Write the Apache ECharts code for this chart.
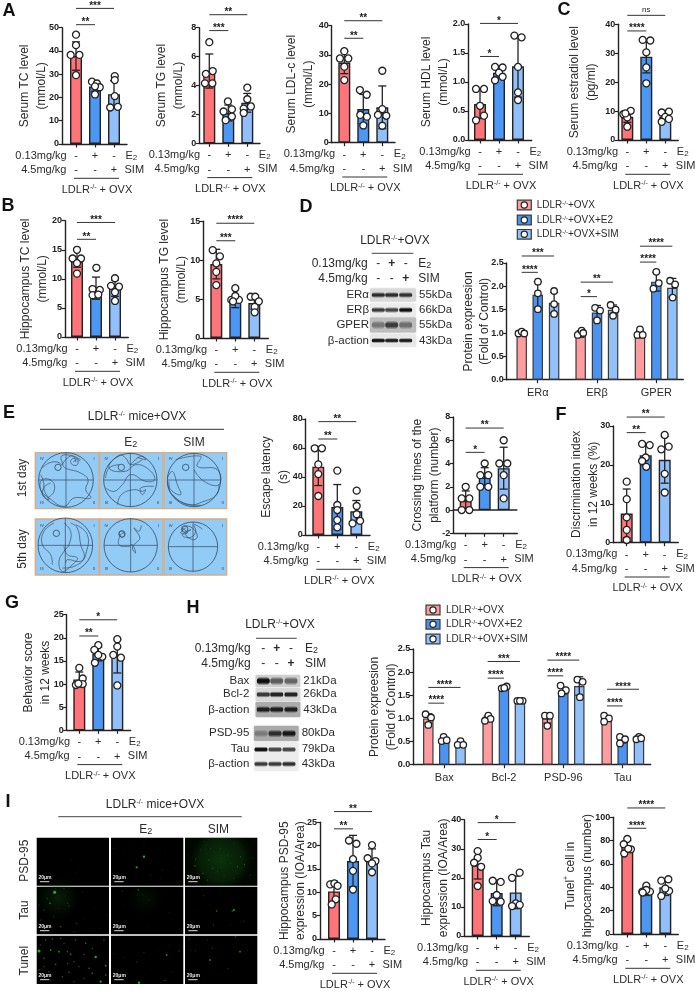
<!DOCTYPE html>
<html><head><meta charset="utf-8">
<style>html,body{margin:0;padding:0;background:#fff}#c{width:695px;height:991px}</style>
<script src="https://cdn.jsdelivr.net/npm/echarts@6/dist/echarts.min.js"></script></head>
<body><div id="c"></div>
<script>
// ---------- values ----------
const xGroups = ['-\n-', '+\n-', '-\n+'];
const tcMeans=[37.8,24.7,21.4], tcSD=[6.1,2,5.8];
const tcDots=[[0,47],[0,42.5],[-.28,38.3],[.18,38.3],[0,29.6],[.84,26.8],[1.1,26],[1.25,24.4],[1,21.3],[1,24.8],[2.04,29.2],[2.04,27.5],[2.04,20.6],[1.8,15.7],[2.2,16]];
const tcSig=[[0,1,51.3,'**'],[0,2,58.3,'***']];
const tgMeans=[5,2.1,2.8], tgSD=[1.18,.55,.65];
const tgDots=[[0,7],[.18,5],[-.18,4.8],[-.23,4.15],[.16,4.15],[.98,2.9],[1.19,2.35],[.75,2.2],[1.19,1.85],[.86,1.6],[2,3.85],[2,3.05],[2.19,2.55],[1.81,2.4],[1.81,2.1]];
const tgSig=[[0,1,7.8,'***'],[0,2,8.9,'**']];
const ldlMeans=[27.4,11.5,12.1], ldlSD=[3.8,5,7.3];
const ldlDots=[[0,31.3],[-.23,28.8],[.21,28.8],[0,26],[0,21.4],[.82,18],[1.18,16.4],[.84,9.5],[1.19,8.9],[1,5.9],[2,24.6],[2,11.5],[1.77,9.5],[2.21,9.2],[2,5.8]];
const ldlSig=[[0,1,35.7,'**'],[0,2,41.7,'**']];
const hdlMeans=[.62,1.16,1.27], hdlSD=[.25,.1,.53];
const hdlDots=[[-.21,.88],[.21,.88],[0,.59],[.21,.42],[-.21,.34],[.79,1.26],[1.19,1.25],[1,1.16],[.79,1.03],[1.19,1.09],[1.81,1.8],[2.19,1.77],[2,1.26],[2,.82],[2,.69]];
const hdlSig=[[0,1,1.44,'*'],[0,2,2.01,'*']];
const e2Means=[8,28.8,8], e2SD=[1.9,5.6,1.5];
const e2Dots=[[-.21,8.9],[.18,10.1],[0,7.8],[0,4.6],[-.1,9.2],[.81,34.6],[1.21,34.4],[1,30.3],[1,25.1],[1,19.6],[1.81,9.5],[2.19,9.8],[2,8],[1.81,6.3],[2.19,7.3]];
const e2Sig=[[0,1,37.7,'****'],[0,2,43.1,'ns']];
const hipTcMeans=[13.5,8.4,8.4], hipTcSD=[1.5,1.9,1.4];
const hipTcDots=[[0,15],[-.23,13.5],[.21,13.5],[0,12.7],[0,10.9],[1.02,11.9],[.82,8.25],[1.2,8.1],[.82,7.2],[1.12,7.3],[2,10.1],[1.79,8.8],[2.21,8.65],[2,7.7],[2,6.2]];
const hipTcSig=[[0,1,16.8,'**'],[0,2,19.7,'***']];
const hipTgMeans=[9.5,4.6,4.5], hipTgSD=[1.9,.7,.8];
const hipTgDots=[[-.19,11.3],[.19,10.5],[0,9.6],[0,8.5],[0,6.8],[1,6.4],[.79,4.9],[1.19,4.9],[1,5.4],[.88,4.7],[1.81,5.3],[2.05,5.3],[2.24,4.7],[2.02,4],[2.02,3.3]];
const hipTgSig=[[0,1,12.5,'***'],[0,2,14.75,'****']];
const dX=[0,.99,2,3.64,4.65,5.64,7.3,8.31,9.3];
const dNames=['ERα','ERβ','GPER'], dNameX=[.99,4.65,8.31];
const dMeans=[1,1.82,1.65,.98,1.44,1.5,.98,2.1,1.97], dSD=[.03,.28,.22,.07,.15,.1,.08,.2,.2];
const dDots=[[-.2,.99],[0,1.03],[.16,.99],[1,2.1],[1,1.85],[1,1.51],[2,1.9],[2,1.62],[2,1.41],[3.46,.96],[3.7,1.05],[3.8,1],[4.53,1.54],[4.84,1.48],[4.65,1.27],[5.49,1.6],[5.8,1.5],[5.64,1.37],[7.3,1.08],[7.14,.96],[7.47,.96],[8.31,2.31],[8.13,1.95],[8.46,2.07],[9.16,2.12],[9.47,2.04],[9.32,1.76]];
const dSig=[[0,1,2.3,'****'],[0,2,2.65,'***'],[3.64,4.65,1.78,'*'],[3.64,5.64,2.09,'**'],[7.3,8.31,2.52,'****'],[7.3,9.3,2.86,'****']];
const latMeans=[47.1,19.3,16.3], latSD=[13,15.5,7.5];
const latDots=[[-.19,59.8],[.19,59.8],[0,48.7],[0,42],[0,26.9],[1,44.4],[1,20.7],[1,17.2],[1,10.3],[1,5.3],[2.02,30.6],[2.02,20],[2.02,14.3],[1.8,8],[2.2,9.7]];
const latSig=[[0,1,66.2,'**'],[0,2,78.2,'**']];
const crossMeans=[.8,2.8,3.6], crossSD=[.84,.84,1.8];
const crossDots=[[0,2],[-.21,1],[.19,1],[-.21,0],[.19,0],[1,4],[.77,3],[1.19,3],[.77,2],[1.19,2],[2,6],[1.77,4],[2.19,4],[2,3],[2,1]];
const crossSig=[[0,1,4.96,'*'],[0,2,7.05,'**']];
const discMeans=[7.5,22.5,21.3], discSD=[6.3,2.7,6];
const discDots=[[0,15.7],[0,11.2],[0,6.5],[0,3.3],[0,.7],[.81,25.4],[1.21,25.1],[1,21.9],[.81,21],[1.03,19.5],[2,27.7],[1.82,24],[2.21,24.7],[2,17.7],[2,12.9]];
const discSig=[[0,1,28.3,'**'],[0,2,32.3,'**']];
const behMeans=[11,16.5,16], behSD=[1.6,1.5,3.6];
const behDots=[[0,13.5],[.18,11.2],[-.18,9.8],[.18,10],[-.05,10.1],[1,18.4],[.79,17.4],[1.21,15.9],[1,16.3],[.82,14.6],[2,19.7],[2,18.1],[1.79,16.3],[2.19,15.7],[2,9.7]];
const behSig=[[0,1,20.4,'**'],[0,2,23.9,'*']];
const hX=[0,.99,2,3.68,4.69,5.68,7.38,8.37,9.36,11.06,12.05,13.06];
const hNames=['Bax','Bcl-2','PSD-96','Tau'], hNameX=[.99,4.69,8.37,12.05];
const hMeans=[1,.52,.46,1,1.65,1.4,1,1.6,1.7,1,.53,.56], hSD=[.1,.04,.04,.05,.03,.02,.1,.07,.2,.05,.06,.03];
const hDots=[[-.17,1.09],[.17,1.02],[0,.86],[.95,.6],[.83,.51],[1.14,.53],[2,.51],[1.82,.43],[2.17,.43],[3.72,1.06],[3.86,.99],[3.51,.95],[4.55,1.65],[4.86,1.69],[4.71,1.66],[5.52,1.38],[5.85,1.38],[5.68,1.38],[7.23,1.06],[7.54,1.06],[7.38,.84],[8.2,1.71],[8.53,1.61],[8.26,1.54],[9.24,1.84],[9.57,1.79],[9.4,1.46],[10.9,1.06],[11.2,1],[10.9,.93],[11.88,.6],[12.2,.55],[11.88,.46],[13.06,.6],[12.9,.55],[13.2,.57]];
const hSig=[[0,.99,1.33,'****'],[0,2,1.67,'****'],[3.68,4.69,1.87,'****'],[3.68,5.68,2.23,'***'],[7.38,8.37,1.92,'****'],[7.38,9.36,2.26,'****'],[11.08,12.05,1.27,'****'],[11.08,13.06,1.63,'****']];
const psdMeans=[10.2,16.7,16.9], psdSD=[2.2,5.5,2.4];
const psdDots=[[-.2,11.7],[.02,11.9],[.19,11.4],[.09,8.5],[-.12,7.4],[.79,21.1],[1.18,20.4],[1,17.1],[1,14.6],[1,10.6],[2,20.1],[1.77,17.3],[2.18,16.7],[2,16.2],[2,14.3]];
const psdSig=[[0,1,23.6,'**'],[0,2,27.3,'**']];
const tauMeans=[24.3,14.8,15], tauSD=[4.7,4.4,5.6];
const tauDots=[[0,29.2],[0,26.9],[-.19,25.2],[.18,23.8],[0,17.2],[.79,19],[1.21,18.6],[1,14.1],[.79,12],[1.21,11.8],[2.21,21.8],[1.81,20],[2,11.2],[1.81,10.3],[2.21,10.7]];
const tauSig=[[0,1,33.2,'*'],[0,2,39,'*']];
const tunMeans=[75,36.5,40], tunSD=[5,3.5,7];
const tunDots=[[0,81.4],[-.19,76.9],[.19,72.6],[-.16,69],[.05,73],[1,41.4],[.79,36.3],[1.19,36.3],[1,37.7],[.81,35.5],[1.79,45.7],[2.16,46.9],[2.2,36.9],[1.79,32.6],[2,39]];
const tunSig=[[0,1,90.6,'****'],[0,2,108,'****']];
const wbMarksTop=['-','+','-'], wbMarksBottom=['-','-','+'];

// ---------- drawing helpers ----------
const FF='"Liberation Sans",Arial,sans-serif', INK='#2b2b2b';
const RED='#FF7478', BLUE='#4C97F4', LIGHT='#91BFFA';
const RED2='#FF9C9F', BLUE2='#4A93F0', LIGHT2='#92C0F8';
const NAME_FS=12;
const g=[], grids=[], xAxes=[], yAxes=[], series=[];
const richSet=fs=>({a:{fontSize:fs,fontFamily:FF,fill:INK,color:INK},
  s:{fontSize:Math.round(fs*.62),fontFamily:FF,fill:INK,color:INK,verticalAlign:'top'},
  b:{fontSize:Math.round(fs*.72),fontFamily:FF,fill:INK,color:INK,verticalAlign:'bottom',padding:[4,0,0,0]}});
function txt(x,y,t,o={}){
  const fs=o.fs||11;
  const el={type:'text',x,y,silent:true,rotation:o.rot||0,z:o.z||10,style:{text:t,align:o.align||'center',verticalAlign:'middle',
    font:(o.bold?'bold ':'')+fs+'px '+FF,fill:o.fill||INK}};
  if(o.rich) el.style.rich=richSet(fs);
  g.push(el);
}
const ln=(x1,y1,x2,y2,w=1,c='#333')=>g.push({type:'line',silent:true,z:10,shape:{x1,y1,x2,y2},style:{stroke:c,lineWidth:w}});
const rect=(x,y,w,h,fill,stroke,lw)=>g.push({type:'rect',silent:true,z:5,shape:{x,y,width:w,height:h},style:{fill,stroke,lineWidth:lw||0}});
const circ=(cx,cy,r,style)=>g.push({type:'circle',silent:true,z:7,shape:{cx,cy,r},style});
const sup=(a,b)=>`{a|${a}}{s|-/-}{a|${b}}`;
const E2='{a|E}{b|2}';

function panel(p){
  const i=grids.length, step=p.step||19;
  const xs=p.xs||[0,1,2];
  const tickX=p.nameX||xs;
  grids.push({left:p.ax,top:p.top,width:p.end-p.ax,height:p.bot-p.top,containLabel:false});
  const names=p.names||xGroups;
  const axisLine={lineStyle:{color:'#222',width:1.4}};
  xAxes.push({gridIndex:i,type:'value',min:(p.ax-p.c0)/step,max:(p.end-p.c0)/step,splitLine:{show:false},
    axisLine:{show:true,onZero:false,...axisLine},
    axisTick:{show:true,length:3.5,customValues:tickX,lineStyle:{color:'#222',width:1.2}},
    axisLabel:{show:true,customValues:tickX,margin:p.names?6:5,fontSize:11,lineHeight:14.3,color:INK,fontFamily:FF,
      formatter:v=>{const k=tickX.findIndex(t=>Math.abs(t-v)<1e-6);return k>=0?names[k]:''}}});
  yAxes.push({gridIndex:i,type:'value',min:p.min,max:p.max,interval:p.int,splitLine:{show:false},
    axisLine:{show:true,onZero:false,...axisLine},
    axisTick:{show:true,length:3.5,lineStyle:{color:'#222',width:1.2}},
    axisLabel:{fontSize:9,fontWeight:'bold',color:'#222',fontFamily:FF,margin:3,
      formatter:p.fmt?(v=>v.toFixed(p.fmt)):(v=>String(v))},
    name:p.name,nameLocation:'middle',nameRotate:90,nameMoveOverlap:false,nameGap:p.ax-p.nx-11.5,
    nameTextStyle:{fontSize:NAME_FS,lineHeight:16.6,color:INK,fontFamily:FF,rich:p.rich?richSet(NAME_FS):undefined}});
  const cols=p.colors||[RED,BLUE,LIGHT];
  series.push({type:'bar',xAxisIndex:i,yAxisIndex:i,barWidth:p.bw||12,z:2,silent:true,
    data:p.bars.map((v,k)=>({value:[xs[k],v],itemStyle:{color:cols[k%3],borderColor:p.bc||'#222',borderWidth:p.bbw||1.4}}))});
  const errs=p.bars.map((v,k)=>[xs[k],v,p.sd[k]]);
  series.push({type:'custom',xAxisIndex:i,yAxisIndex:i,z:3,silent:true,data:errs,
    renderItem:(params,api)=>{
      const x=api.value(0),m=api.value(1),s=api.value(2);
      const a=api.coord([x,m+s]),b=api.coord([x,m-s]),w=4;
      const st={stroke:'#222',lineWidth:1.3};
      return {type:'group',children:[
        {type:'line',shape:{x1:a[0],y1:a[1],x2:b[0],y2:b[1]},style:st},
        {type:'line',shape:{x1:a[0]-w,y1:a[1],x2:a[0]+w,y2:a[1]},style:st},
        {type:'line',shape:{x1:b[0]-w,y1:b[1],x2:b[0]+w,y2:b[1]},style:st}]};
    }});
  series.push({type:'scatter',xAxisIndex:i,yAxisIndex:i,z:4,silent:true,clip:false,data:p.dots,symbolSize:p.ds||7,
    itemStyle:{color:'#fff',borderColor:'#222',borderWidth:1.3,opacity:1}});
  series.push({type:'custom',xAxisIndex:i,yAxisIndex:i,z:5,silent:true,clip:false,data:p.sig.map(s=>s.slice(0,3)),
    renderItem:(params,api)=>{
      const a=api.coord([api.value(0),api.value(2)]),b=api.coord([api.value(1),api.value(2)]);
      const lab=p.sig[params.dataIndex][3], ns=lab==='ns';
      return {type:'group',children:[
        {type:'line',shape:{x1:a[0],y1:a[1],x2:b[0],y2:b[1]},style:{stroke:'#333',lineWidth:1}},
        {type:'text',style:{text:lab,x:(a[0]+b[0])/2,y:a[1]-(ns?6:2.5),align:'center',verticalAlign:'middle',
          font:(ns?'':'bold ')+(ns?8:10)+'px '+FF,fill:'#222'}}]};
    }});
  if(p.zeroLine) series.push({type:'line',xAxisIndex:i,yAxisIndex:i,symbol:'none',silent:true,z:3,
    data:[[(p.ax-p.c0)/step,0],[(p.end-p.c0)/step,0]],lineStyle:{color:'#222',width:1.4}});
  if(!p.names){
    const c2=p.c0+2*step,b=p.bot;
    txt(p.c0-9.3,b+11.7,'0.13mg/kg',{align:'right'});
    txt(p.c0-9.6,b+26,'4.5mg/kg',{align:'right'});
    txt(c2+11.5,b+11.7,E2,{align:'left',rich:true});
    txt(c2+10.5,b+26,'SIM',{align:'left'});
    ln(p.c0-2,b+34.3,c2+5,b+34.3,1,'#333');
    txt(p.c0+step+2,b+45.5,sup('LDLR',' + OVX'),{rich:true});
  }
}

// ---------- chart panels ----------
panel({ax:62,end:127,c0:76,top:27.7,bot:144,min:0,max:50,int:10,nx:38.3,name:'Serum TC level\n(mmol/L)',bars:tcMeans,sd:tcSD,dots:tcDots,sig:tcSig});
panel({ax:199.3,end:260,c0:209.3,top:27.7,bot:143.3,min:0,max:8,int:2,nx:175,name:'Serum TG level\n(mmol/L)',bars:tgMeans,sd:tgSD,dots:tgDots,sig:tgSig});
panel({ax:331.7,end:395,c0:344.3,top:25.7,bot:142.7,min:0,max:40,int:10,nx:305,name:'Serum LDL-c level\n(mmol/L)',bars:ldlMeans,sd:ldlSD,dots:ldlDots,sig:ldlSig});
panel({ax:468.3,end:531.7,c0:480,top:24,bot:140,min:0,max:2,int:.5,fmt:1,nx:440,name:'Serum HDL level\n(mmol/L)',bars:hdlMeans,sd:hdlSD,dots:hdlDots,sig:hdlSig});
panel({ax:618.3,end:678.3,c0:627.3,top:24.3,bot:140,min:0,max:40,int:10,nx:588.3,name:'Serum estradiol level\n(pg/ml)',bars:e2Means,sd:e2SD,dots:e2Dots,sig:e2Sig});
panel({ax:65,end:128.3,c0:77,top:220.7,bot:337,min:0,max:20,int:5,nx:39.3,name:'Hippocampus TC level\n(mmol/L)',bars:hipTcMeans,sd:hipTcSD,dots:hipTcDots,sig:hipTcSig});
panel({ax:203.3,end:268.3,c0:216.3,top:221.3,bot:338,min:0,max:15,int:5,nx:178.3,name:'Hippocampus TG level\n(mmol/L)',bars:hipTgMeans,sd:hipTgSD,dots:hipTgDots,sig:hipTgSig});
panel({ax:506.7,end:683.3,c0:521.7,step:16.2,top:263,bot:379.7,min:0,max:2.5,int:.5,fmt:1,nx:481.7,name:'Protein expreesion\n(Fold of Control)',
  xs:dX,nameX:dNameX,names:dNames,bars:dMeans,sd:dSD,dots:dDots,sig:dSig,colors:[RED2,BLUE2,LIGHT2],bw:10.5,bc:'#3a3a3a',bbw:1.2,ds:6.5});
panel({ax:305.7,end:370,c0:318.3,top:419,bot:535,min:0,max:80,int:20,nx:280,name:'Escape latency\n(s)',bars:latMeans,sd:latSD,dots:latDots,sig:latSig});
panel({ax:453.3,end:517.3,c0:465.7,top:417,bot:533.3,min:-2,max:8,int:2,nx:431,name:'Crossing times of the\nplatform (number)',bars:crossMeans,sd:crossSD,dots:crossDots,sig:crossSig,zeroLine:true});
panel({ax:613.3,end:678.3,c0:626.7,top:426,bot:542.7,min:0,max:30,int:10,nx:590,name:'Discrimination index\nin 12 weeks (%)',bars:discMeans,sd:discSD,dots:discDots,sig:discSig});
panel({ax:66.7,end:130.7,c0:79.3,top:614.7,bot:730.3,min:0,max:25,int:5,nx:42.3,name:'Behavior score\nin 12 weeks',bars:behMeans,sd:behSD,dots:behDots,sig:behSig});
panel({ax:413.3,end:650.7,c0:428.3,step:16.13,top:649,bot:764.7,min:0,max:2.5,int:.5,fmt:1,nx:388.3,name:'Protein expreesion\n(Fold of Control)',
  xs:hX,nameX:hNameX,names:hNames,bars:hMeans,sd:hSD,dots:hDots,sig:hSig,colors:[RED2,BLUE2,LIGHT2],bw:10.5,bc:'#3a3a3a',bbw:1.2,ds:6.5});
panel({ax:320,end:385,c0:334,top:822.3,bot:939,min:0,max:25,int:5,nx:297.7,name:'Hippocampus PSD-95\nexpression (IOA/Area)',bars:psdMeans,sd:psdSD,dots:psdDots,sig:psdSig});
panel({ax:464.3,end:529.3,c0:477.7,top:819.7,bot:936,min:0,max:40,int:10,nx:440,name:'Hippocampus Tau\nexpression (IOA/Area)',bars:tauMeans,sd:tauSD,dots:tauDots,sig:tauSig});
panel({ax:613.3,end:678.3,c0:627.3,top:817.3,bot:934,min:0,max:100,int:20,nx:584.3,rich:true,name:'{a|Tunel}{s|+}{a| cell in}\n{a|hippocampus (number)}',bars:tunMeans,sd:tunSD,dots:tunDots,sig:tunSig});

// ---------- panel letters ----------
[['A',9,11],['C',564,10],['B',8,206],['D',306,207],['E',9,413],['F',561,415],['G',12,603],['H',193,608],['I',8,802]]
  .forEach(l=>txt(l[1],l[2],l[0],{fs:18,bold:true,fill:'#111'}));

// ---------- legends ----------
function legend(x,ys,tx){
  const cols=[RED2,BLUE2,LIGHT2],labs=['','+E2','+SIM'];
  ys.forEach((y,k)=>{
    rect(x,y-4.8,14,9.6,cols[k],'#3a3a3a',1.2);
    circ(x+7,y,3.1,{fill:'#fff',stroke:'#222',lineWidth:1.2});
    txt(tx,y,`{a|LDLR}{s|-/-}{a|+OVX${labs[k]}}`,{align:'left',fs:10,rich:true});
  });
}
legend(517.3,[205,220,234.3],536.7);
legend(426,[610,624.3,639],446);

// ---------- western blots ----------
function blot(x,y,w,h,bg,lanes,vals,th,lw){
  g.push({type:'rect',silent:true,z:5,shape:{x,y,width:w,height:h,r:1},style:{fill:bg,shadowBlur:2,shadowColor:bg}});
  lanes.forEach((cx,k)=>{
    const a=vals[k],t=th||4,cy=y+h/2;
    g.push({type:'rect',silent:true,z:6,shape:{x:cx-(lw||6.5),y:cy-t,width:(lw||6.5)*2,height:2*t,r:t},
      style:{fill:{type:'linear',x:0,y:0,x2:0,y2:1,colorStops:[{offset:0,color:`rgba(15,15,15,0)`},{offset:.35,color:`rgba(15,15,15,${a})`},{offset:.65,color:`rgba(15,15,15,${a})`},{offset:1,color:`rgba(15,15,15,0)`}]}}});
  });
}
function wbHead(title,tx,ty,lx1,lx2,ly,labelX,lanes,markY1,markY2,rightX){
  txt(tx,ty,sup('LDLR','+OVX'),{rich:true,fs:12});
  ln(lx1,ly,lx2,ly,1,'#444');
  txt(labelX,markY1,'0.13mg/kg',{align:'right',fs:12});
  txt(labelX,markY2,'4.5mg/kg',{align:'right',fs:12});
  lanes.forEach((cx,k)=>{txt(cx,markY1,wbMarksTop[k],{fs:12,bold:wbMarksTop[k]==='+'});txt(cx,markY2,wbMarksBottom[k],{fs:12,bold:wbMarksBottom[k]==='+'});});
  txt(rightX,markY1,E2,{align:'left',rich:true,fs:12});
  txt(rightX,markY2,'SIM',{align:'left',fs:12});
}
const dLanes=[378.3,391.7,405.7];
wbHead('D',395,241,371.7,413.3,253.3,367.7,dLanes,263.3,278.3,418.3);
blot(370,288.5,46,13,'#d8d8d8',dLanes,[.85,.85,.82],3);
blot(370,303.5,46,13,'#ececec',dLanes,[.8,.75,1],3);
blot(370,317.5,46,15,'#bdbdbd',dLanes,[.4,.75,.45],4.5);
blot(370,334,46,13,'#e8e8e8',dLanes,[1,.95,.95],2.6);
[['ERα',295,'55kDa'],['ERβ',310,'66kDa'],['GPER',325,'55kDa'],['β-action',340.7,'43kDa']].forEach(r=>{
  txt(369,r[1],r[0],{align:'right',fs:11.5});txt(419,r[1],r[2],{align:'left',fs:11.5});});
const hLanes=[263.3,276.7,291];
wbHead('H',280,625,256,296.7,638.3,250.7,hLanes,649,664,305);
blot(255.7,675,44.5,12,'#cfcfcf',hLanes,[1,.6,.55],4.5);
blot(255.7,688,44.5,13,'#d8d8d8',hLanes,[.8,.9,.9],3.2);
blot(255.7,702,44.5,15,'#ababab',hLanes,[.9,.9,.9],3.6);
blot(254,726,44.5,15,'#aaaaaa',[261,275,289],[.3,.8,.95],4);
blot(254,742,44.5,15,'#ececec',[261,275,289],[1,.75,.75],3);
blot(254,757,44.5,14,'#ececec',[261,275,289],[.8,.8,.85],3);
[['Bax',680.7,303.3,'21kDa'],['Bcl-2',694.3,303.3,'26kDa'],['β-action',710,303.3,'43kDa'],['PSD-95',733.3,301.7,'80kDa'],['Tau',749.3,301.7,'79kDa'],['β-action',764,301.7,'43kDa']]
  .forEach(r=>{txt(249.3,r[1],r[0],{align:'right',fs:11.5});txt(r[2],r[1],r[3],{align:'left',fs:11.5});});

// ---------- water maze tracks (crop coordinates) ----------
const mzX=x=>34+x/3, mzY=y=>448+y/3;
const mazeCells=[[4,14,191,168],[197,14,190,168],[390,14,188,168],[4,213,191,168],[197,213,190,168],[390,213,188,168]];
const mazeRings=[[96,96,82,72,58],[289,96,80,262,58],[480,96,80,455,58],[94,292,82,67,256],[290,292,80,264,258],[477,296,74,452,243]];
const mazeTracks=[
 [[125,42],[118,25],[100,30],[88,55],[140,75],[162,95],[155,125],[170,150],[120,150],[90,175],[45,150],[20,125],[25,95],[55,100],[60,130],[40,150]],
 [[25,60],[45,45],[70,42],[85,50],[82,25],[110,22],[140,35]],
 [[118,42],[130,35],[130,50],[115,50],[110,38],[125,30],[138,40]],
 [[20,80],[30,110],[25,140],[45,155],[30,120],[50,105]],
 [[325,35],[290,50],[275,30],[255,22],[225,60],[275,70],[305,50],[345,65],[362,95],[335,100],[290,80],[265,110],[240,130],[215,120]],
 [[250,170],[262,140],[300,125],[325,130],[335,125],[325,140],[320,120],[360,115]],
 [[290,50],[320,25],[335,35],[310,28]],
 [[215,90],[225,60],[255,50]],
 [[425,35],[500,25],[490,55],[550,65],[555,110],[510,100],[480,65]],
 [[400,90],[415,70],[430,110],[440,140],[410,125],[405,100]],
 [[415,140],[460,170],[510,160],[548,140],[555,110]],
 [[400,100],[410,135],[450,165],[500,172]],
 [[90,225],[110,250],[105,290],[90,310],[75,340],[85,370],[115,350],[130,330],[100,320],[90,295]],
 [[110,225],[130,240],[140,290],[150,330],[120,355],[85,360]],
 [[60,225],[30,250],[25,290],[50,320],[55,350]],
 [[125,230],[160,260],[155,320],[140,340],[100,335],[95,345]],
 [[322,232],[315,250],[300,240],[318,270],[305,285],[295,300],[305,315],[295,290],[285,295],[255,290],[260,260],[270,255]],
 [[255,255],[262,248],[272,260],[262,268],[255,255]],
 [[445,250],[450,235],[475,240],[490,265],[478,275],[455,260],[470,245],[445,262],[470,268],[485,250],[480,230],[505,243]],
 [[445,240],[460,255],[440,255],[455,240]]
];
mazeCells.forEach(c=>{
  rect(mzX(c[0]),mzY(c[1]),c[2]/3,c[3]/3,'#93CBF7','#D8AC82',1.4);
  [['IV',20,20],['I',176,20],['III',20,150],['II',176,150]].forEach(q=>txt(mzX(c[0]+q[1]),mzY(c[1]+q[2]),q[0],{fs:4,fill:'#335'}));
});
mazeRings.forEach(r=>{
  const cx=mzX(r[0]),cy=mzY(r[1]),R=r[2]/3;
  circ(cx,cy,R,{fill:'none',stroke:'#34495f',lineWidth:.8});
  ln(cx-R,cy,cx+R,cy,.7,'#34495f');ln(cx,cy-R,cx,cy+R,.7,'#34495f');
  circ(mzX(r[3]),mzY(r[4]),3.2,{fill:'none',stroke:'#34495f',lineWidth:.8});
});
mazeTracks.forEach(t=>g.push({type:'polyline',silent:true,z:8,shape:{points:t.map(p=>[mzX(p[0]),mzY(p[1])]),smooth:.45},style:{fill:'none',stroke:'#3a4e64',lineWidth:.7}}));
txt(137,417,sup('LDLR',' mice+OVX'),{rich:true,fs:12});
ln(40,429.3,224,429.3,1,'#333');
txt(130.7,442.7,E2,{rich:true,fs:12});
txt(194,442.7,'SIM',{fs:12});
txt(22.3,478,'1st day',{rot:Math.PI/2,fs:12});
txt(22.3,549,'5th day',{rot:Math.PI/2,fs:12});

// ---------- fluorescence micrographs (spots, crop coordinates) ----------
const fX=x=>34+x/3, fY=y=>835+y/3;
const fCells=[[36.7,837.7],[111,837.7],[185,837.7],[36.7,886.7],[111,886.7],[185,886.7],[36.7,935.7],[111,935.7],[185,935.7]];
fCells.forEach((c,i)=>{
  const h=i<3?48:i<6?47.6:48.3;
  rect(c[0],c[1],72.3,h,'#000');
});
g.push({type:'rect',silent:true,z:6,shape:{x:185,y:837.7,width:72.3,height:48},style:{fill:{type:'radial',x:.5,y:.45,r:.65,colorStops:[{offset:0,color:'rgba(25,105,25,.48)'},{offset:.7,color:'rgba(20,85,20,.34)'},{offset:1,color:'rgba(10,45,10,.14)'}]}}});
g.push({type:'circle',silent:true,z:6,shape:{cx:58,cy:898,r:22},style:{fill:{type:'radial',x:.5,y:.5,r:.5,colorStops:[{offset:0,color:'rgba(30,100,30,.3)'},{offset:1,color:'rgba(20,80,20,0)'}]}}});
g.push({type:'circle',silent:true,z:6,shape:{cx:145,cy:898,r:18},style:{fill:{type:'radial',x:.5,y:.5,r:.5,colorStops:[{offset:0,color:'rgba(30,90,30,.16)'},{offset:1,color:'rgba(20,80,20,0)'}]}}});
const spots=[
 [113,75,.5],[132,100,.4],[125,112,.4],[110,25,.3],
 [330,65,1.6],[308,97,1.5],[385,105,.6],[350,120,.6],[380,130,.5],[238,40,.6],[268,60,.4],[290,25,.4],[422,97,.4],[330,32,.4],[395,55,.4],
 [485,72,.8],[483,93,.9],[507,115,.8],[520,135,.8],[535,100,.7],[525,75,.7],[610,95,.8],[632,88,.8],[620,65,.7],[560,40,.6],[580,60,.6],[600,130,.6],[550,110,.6],[500,45,.6],[470,30,.5],[640,30,.5],[650,120,.6],[570,120,.6],[530,40,.6],[590,85,.6],[465,60,.5],[655,70,.5],[510,20,.5],[600,25,.5],[560,80,.5],
 [62,172,2],[48,205,1.1],[30,225,.8],[15,210,.7],[105,213,.8],[100,205,.7],[58,245,.7],[80,275,.9],[128,265,.7],[145,172,.6],[178,218,.5],[150,250,.5],[90,160,.7],[20,255,.8],[218,240,.6],[200,280,.5],[120,290,.7],[65,160,.6],[40,190,.7],[75,220,.6],
 [265,168,.7],[313,165,.9],[345,195,.6],[325,180,.5],[405,232,.6],[322,250,.4],[415,240,.4],[268,215,.4],[340,272,.4],[440,170,.4],
 [600,225,1.4],[595,228,1],[548,228,1],[528,212,.6],[510,182,.7],[538,270,.7],[590,270,.5],[630,258,.7],[620,260,.5],[560,162,.5],[490,228,.4],[470,228,.4],[505,165,.5],[480,260,.5],
 [15,348,2],[50,345,1.2],[75,350,1.2],[110,358,1.1],[185,366,1.6],[30,370,1],[65,388,1],[100,350,1],[125,315,.9],[35,315,.9],[55,312,.9],[80,310,.9],[155,325,1],[210,315,.9],[175,340,.9],[150,358,.9],[215,392,1.2],[165,400,1],[200,440,1.5],[175,415,1],[105,412,1],[85,425,.9],[45,410,.9],[120,380,.9],[15,405,.9],[135,395,.8],[215,420,1],[90,325,.8],[30,395,.8],[120,440,.8],[50,435,.8],[150,430,.8],[20,330,.8],[100,385,.8],
 [398,360,1.2],[315,443,1.6],[393,436,.9],[308,380,.7],[435,348,.8],[270,368,.6],[330,352,.7],[370,345,.5],[240,355,.5],[415,410,.5],[405,330,.5],[350,400,.4],
 [528,375,1.2],[618,350,1.2],[466,312,.7],[535,340,.7],[520,315,.6],[485,348,.6],[605,305,.8],[582,400,.7],[470,345,.6],[640,345,.5],[510,430,.5],[655,312,.5],[465,420,.5],[550,420,.4]
];
spots.forEach(s=>circ(fX(s[0]),fY(s[1]),s[2]*.75,{fill:'#1fbf1f',opacity:Math.min(.95,.35+s[2]*.35)}));
fCells.forEach(c=>{
  txt(c[0]+8.3,c[1]+39.5,'20μm',{fs:5,bold:true,fill:'#e8e8e8'});
  ln(c[0]+3.3,c[1]+44,c[0]+12.6,c[1]+44,1,'#ddd');
});
txt(155,805,sup('LDLR',' mice+OVX'),{rich:true,fs:12});
ln(58.3,816.7,241.7,816.7,1,'#444');
txt(145.7,830,E2,{rich:true,fs:12});
txt(218.3,830,'SIM',{fs:12});
txt(25,860.7,'PSD-95',{rot:Math.PI/2,fs:12});
txt(25,910,'Tau',{rot:Math.PI/2,fs:12});
txt(25,960.7,'Tunel',{rot:Math.PI/2,fs:12});

const chart=echarts.init(document.getElementById('c'),null,{renderer:'canvas'});
chart.setOption({animation:false,backgroundColor:'#fff',tooltip:{show:false},grid:grids,xAxis:xAxes,yAxis:yAxes,series,graphic:{elements:g}});
</script></body></html>
